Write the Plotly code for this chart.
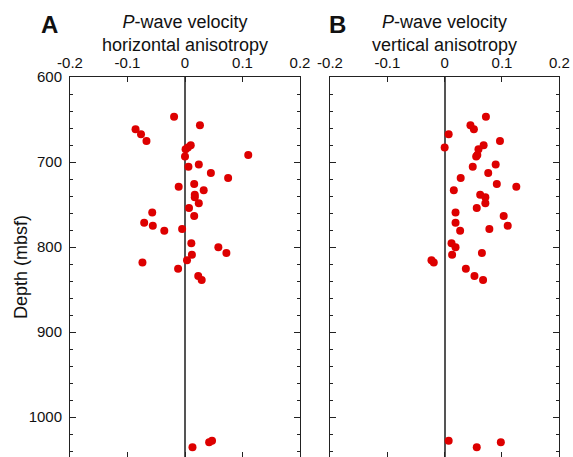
import plotly.graph_objects as go

# Depth of each measurement (mbsf)
depth = [646.7, 656.9, 661.6, 667.4, 675.3, 680.2, 683.0, 685.0, 691.8, 693.5,
         703.0, 705.5, 712.8, 718.8, 726.0, 729.2, 733.3, 738.4, 741.4, 748.4,
         754.0, 759.4, 763.5, 771.4, 774.9, 778.8, 781.0, 795.7, 800.4, 807.0,
         809.0, 815.5, 818.2, 825.5, 834.0, 838.8, 1028.0, 1029.8, 1035.7]

# P-wave velocity horizontal anisotropy
horiz_aniso = [-0.019, 0.026, -0.086, -0.0765, -0.067, 0.010, 0.005, 0.001, 0.110, 0.000,
               0.024, 0.006, 0.045, 0.075, 0.016, -0.011, 0.0325, 0.017, 0.017, 0.024,
               0.007, -0.057, 0.016, -0.071, -0.056, -0.005, -0.036, 0.011, 0.058, 0.072,
               0.012, 0.0035, -0.074, -0.012, 0.023, 0.029, 0.047, 0.042, 0.013]

# P-wave velocity vertical anisotropy
vert_aniso = [0.072, 0.045, 0.051, 0.007, 0.0965, 0.068, 0.000, 0.059, 0.057, 0.055,
              0.089, 0.049, 0.076, 0.028, 0.091, 0.125, 0.016, 0.062, 0.071, 0.071,
              0.056, 0.019, 0.103, 0.019, 0.110, 0.078, 0.027, 0.012, 0.019, 0.065,
              0.013, -0.023, -0.019, 0.037, 0.052, 0.067, 0.007, 0.098, 0.056]

x_ticks = [-0.2, -0.1, 0, 0.1, 0.2]
x_tick_text = ["-0.2", "-0.1", "0", "0.1", "0.2"]
depth_minor_ticks = list(range(600, 1041, 20))
depth_major_ticks = [600, 700, 800, 900, 1000]
depth_tick_text = [str(d) if d in depth_major_ticks else "" for d in depth_minor_ticks]

W, H = 573, 457
FONT = "Liberation Sans, Arial, Helvetica, sans-serif"
RED = "#dd0000"
INK = "#111"
AXC = "#222"

fig = go.Figure()
fig.add_trace(go.Scatter(x=horiz_aniso, y=depth, mode="markers",
                         marker=dict(color=RED, size=8), xaxis="x", yaxis="y",
                         showlegend=False))
fig.add_trace(go.Scatter(x=vert_aniso, y=depth, mode="markers",
                         marker=dict(color=RED, size=8), xaxis="x2", yaxis="y2",
                         showlegend=False))
# empty traces so the overlay axes carrying the long 100 m ticks are drawn
fig.add_trace(go.Scatter(x=[None], y=[None], xaxis="x", yaxis="y3",
                         showlegend=False, hoverinfo="skip"))
fig.add_trace(go.Scatter(x=[None], y=[None], xaxis="x2", yaxis="y4",
                         showlegend=False, hoverinfo="skip"))

top_px = 77
y_dom = [0, (H - top_px) / H]
y_range = [600 + (H - top_px) / 0.85, 600]

xaxis_common = dict(range=[-0.2, 0.2], tickmode="array", tickvals=x_ticks,
                    ticktext=x_tick_text, side="top", ticks="inside", ticklen=5,
                    tickwidth=1, tickcolor=AXC, showline=True, linecolor=AXC,
                    linewidth=1, mirror="ticks", showgrid=False, zeroline=True,
                    zerolinecolor="#555", zerolinewidth=1.5, ticklabelstandoff=2,
                    automargin=False, fixedrange=True,
                    tickfont=dict(size=15, color=INK, family=FONT))
yaxis_common = dict(range=y_range, tickmode="array", tickvals=depth_minor_ticks,
                    ticktext=depth_tick_text, ticks="inside", ticklen=3, tickwidth=1,
                    tickcolor=AXC, showline=True, linecolor=AXC, linewidth=1,
                    mirror="ticks", showgrid=False, zeroline=False,
                    ticklabelstandoff=4, automargin=False, fixedrange=True,
                    tickfont=dict(size=15, color=INK, family=FONT), domain=y_dom)
ymajor_common = dict(range=y_range, tickmode="array", tickvals=depth_major_ticks,
                     ticks="inside", ticklen=6, tickwidth=1, tickcolor=AXC,
                     showline=False, mirror="ticks", showgrid=False, zeroline=False,
                     showticklabels=False, automargin=False, fixedrange=True,
                     domain=y_dom)

fig.update_layout(
    width=W, height=H,
    margin=dict(l=0, r=0, t=0, b=0, pad=0),
    paper_bgcolor="white", plot_bgcolor="white",
    font=dict(family=FONT, color=INK),
    xaxis=dict(domain=[70 / W, 300 / W], anchor="y", **xaxis_common),
    xaxis2=dict(domain=[330 / W, 559.3 / W], anchor="y2", **xaxis_common),
    yaxis=dict(anchor="x", **yaxis_common),
    yaxis2=dict(anchor="x2", **{**yaxis_common, "showticklabels": False}),
    yaxis3=dict(anchor="x", overlaying="y", **ymajor_common),
    yaxis4=dict(anchor="x2", overlaying="y2", **ymajor_common),
)

# Panel letters and titles
for letter, xc in (("A", 49), ("B", 337)):
    fig.add_annotation(text=f"<b>{letter}</b>", x=xc / W, y=1 - 25 / H,
                       xref="paper", yref="paper", showarrow=False,
                       font=dict(size=24, family=FONT, color=INK),
                       xanchor="center", yanchor="middle")

for title, xc in (("<i>P</i>-wave velocity<br>horizontal anisotropy", 185),
                  ("<i>P</i>-wave velocity<br>vertical anisotropy", 444.3)):
    fig.add_annotation(text=title, x=xc / W, y=1 - 33 / H, xref="paper", yref="paper",
                       showarrow=False, font=dict(size=18, family=FONT, color=INK),
                       xanchor="center", yanchor="middle")

fig.add_annotation(text="Depth (mbsf)", textangle=-90, x=21 / W, y=1 - 267 / H,
                   xref="paper", yref="paper", showarrow=False,
                   font=dict(size=18, family=FONT, color=INK),
                   xanchor="center", yanchor="middle")

fig.write_html("out.html")
